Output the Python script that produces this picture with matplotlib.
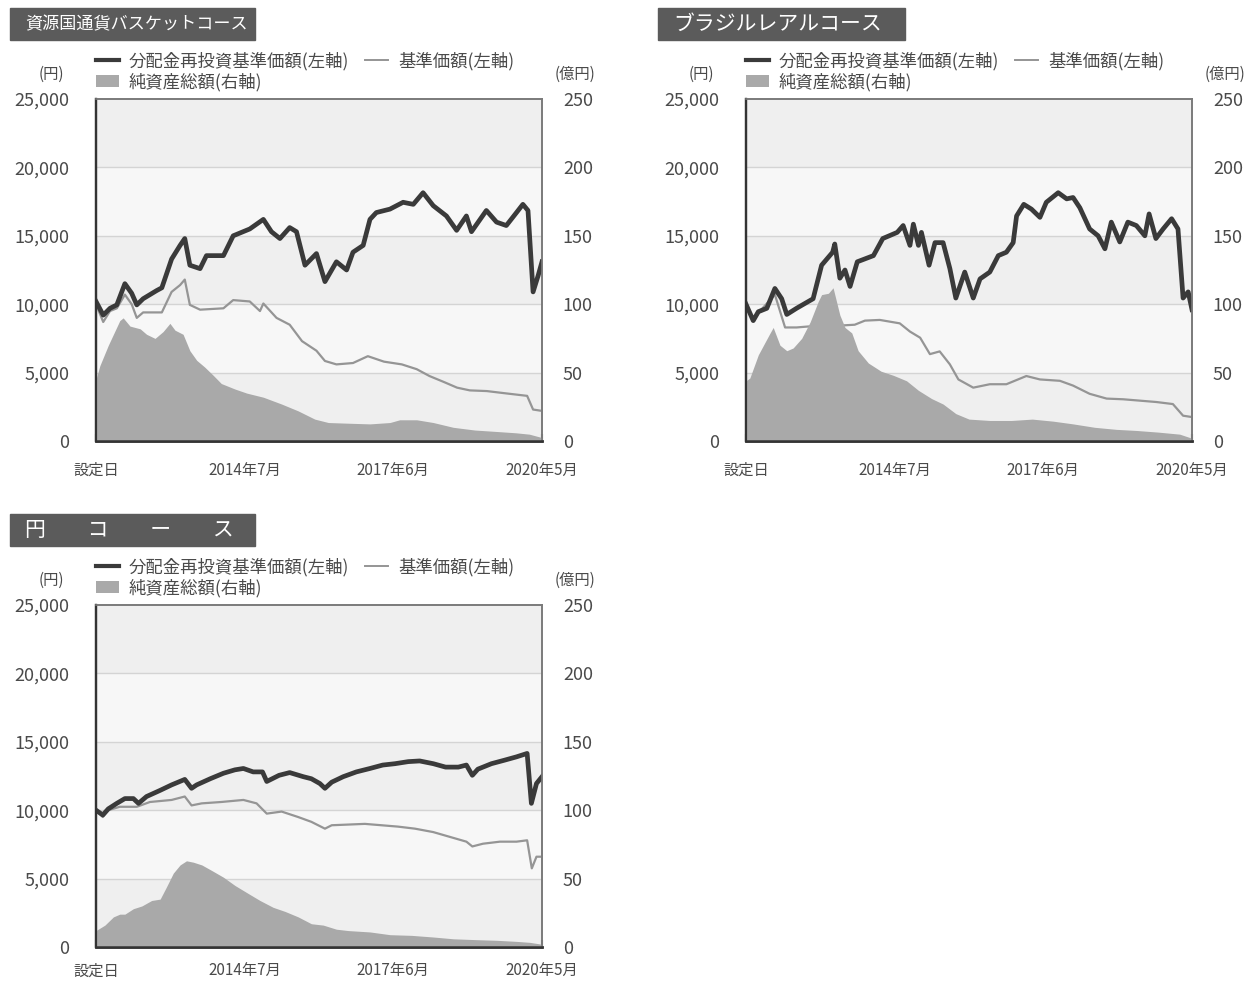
import matplotlib
matplotlib.use("Agg")
import matplotlib.pyplot as plt
from matplotlib.patches import Rectangle, Patch
from matplotlib.lines import Line2D
from matplotlib.ticker import FuncFormatter

plt.rcParams['font.family'] = ['Noto Sans CJK JP', 'DejaVu Sans']

# months since 設定日 (2011年8月)
x_ticks = [0, 35, 70, 105]
x_labels = ["設定日", "2014年7月", "2017年6月", "2020年5月"]
left_ticks = [0, 5000, 10000, 15000, 20000, 25000]
right_ticks = [0, 50, 100, 150, 200, 250]

# 資源国通貨バスケットコース
basket_tr_m = [0, 1.7, 3.3, 4.9, 6.8, 8.4, 9.6, 11.1, 14.3, 15.5, 17.8, 19.8, 20.9, 22.1, 24.5, 26.0,
               30.0, 32.3, 36.2, 39.4, 41.3, 43.3, 45.6, 47.2, 49.2, 51.9, 53.9, 56.6, 59.0, 60.5,
               62.9, 64.5, 66.0, 69.2, 72.3, 74.7, 77.0, 79.4, 82.5, 84.9, 87.2, 88.4, 91.9, 94.3,
               96.6, 99.0, 100.5, 101.7, 102.9, 104.1, 105]
basket_tr = [10200, 9200, 9700, 9950, 11500, 10800, 9950, 10400, 11000, 11200, 13300, 14300, 14800,
             12850, 12600, 13550, 13550, 15000, 15500, 16200, 15300, 14800, 15600, 15300, 12850,
             13700, 11650, 13100, 12500, 13800, 14300, 16200, 16700, 16950, 17450, 17300, 18150,
             17200, 16450, 15400, 16450, 15300, 16850, 16000, 15750, 16700, 17300, 16850, 10900,
             12100, 13100]
basket_nav_m = [0, 1.7, 3.3, 4.9, 6.8, 8.4, 9.6, 11.1, 15.5, 17.8, 19.8, 20.9, 22.1, 24.5, 30.0, 32.3,
                36.2, 38.6, 39.4, 42.5, 45.6, 48.5, 51.9, 53.9, 56.6, 60.5, 64.0, 67.8, 72.0, 75.5,
                78.5, 82.0, 85.0, 88.0, 92.0, 96.0, 101.5, 102.9, 105]
basket_nav = [10000, 8700, 9500, 9700, 10700, 10000, 9000, 9400, 9400, 10900, 11400, 11800, 9950,
              9600, 9700, 10300, 10200, 9500, 10050, 9000, 8500, 7300, 6600, 5850, 5600, 5700, 6200,
              5800, 5600, 5250, 4750, 4300, 3900, 3700, 3650, 3500, 3300, 2300, 2200]
basket_aum_m = [0, 0.9, 2.9, 5.6, 6.4, 8.0, 10.4, 11.9, 13.9, 15.8, 17.4, 18.6, 20.5, 22.1, 23.7,
                25.6, 27.6, 29.5, 32.7, 35.5, 39.4, 43.7, 47.6, 51.5, 54.7, 59.4, 64.5, 69.2, 71.5,
                75.5, 79.4, 84.1, 89.2, 94.1, 98.8, 102.0, 105]
basket_aum = [45, 55, 70, 88, 90, 84, 82, 78, 75, 80, 86, 81, 78, 66, 59, 54, 48, 42, 38, 35, 32, 27,
              22, 16, 13.5, 13, 12.5, 13.5, 15.5, 15.5, 13.5, 10, 8, 7, 6, 5, 2.5]

# ブラジルレアルコース
brl_tr_m = [0, 1.7, 2.9, 4.9, 6.8, 8.4, 9.6, 11.9, 15.8, 17.8, 20.4, 20.9, 22.1, 23.3, 24.5, 26.2,
            30.0, 32.2, 35.6, 37.0, 38.6, 39.4, 40.6, 41.3, 43.1, 44.5, 46.4, 48.0, 49.4, 51.5, 53.5,
            55.1, 57.4, 59.4, 61.3, 62.9, 63.7, 65.4, 67.2, 69.2, 70.7, 73.5, 75.5, 77.0, 78.6, 80.9,
            82.9, 84.5, 86.0, 88.0, 89.9, 91.9, 93.9, 94.9, 96.5, 98.2, 100.2, 101.7, 102.9, 104.1, 105]
brl_tr = [10000, 8800, 9450, 9700, 11150, 10400, 9250, 9700, 10400, 12850, 13800, 14400, 11900, 12500,
          11300, 13100, 13550, 14800, 15250, 15750, 14300, 15850, 14300, 15250, 12850, 14500, 14500,
          12600, 10450, 12350, 10450, 11850, 12350, 13550, 13800, 14500, 16450, 17300, 16950, 16350,
          17450, 18150, 17700, 17800, 17050, 15500, 15000, 14050, 16000, 14550, 16000, 15750, 15000,
          16600, 14800, 15500, 16250, 15500, 10450, 10900, 9600]
brl_nav_m = [0, 1.7, 3.3, 6.8, 9.2, 11.9, 15.8, 20.0, 25.6, 28.0, 31.5, 36.2, 38.6, 41.0, 43.3, 45.6,
             48.0, 50.0, 53.5, 57.4, 61.3, 66.0, 69.2, 73.9, 77.0, 80.9, 84.9, 88.8, 92.7, 96.6,
             100.5, 102.9, 105]
brl_nav = [10000, 8800, 9500, 10700, 8300, 8300, 8400, 8400, 8500, 8800, 8850, 8600, 8000, 7550, 6350,
           6550, 5600, 4500, 3900, 4150, 4150, 4750, 4500, 4400, 4050, 3450, 3100, 3050, 2950, 2850,
           2700, 1850, 1750]
brl_aum_m = [0, 0.9, 2.9, 5.5, 6.4, 8.0, 9.6, 11.1, 13.1, 15.1, 17.0, 17.8, 19.4, 20.5, 22.1, 23.3,
             24.9, 26.4, 28.8, 31.8, 34.7, 37.8, 40.6, 43.7, 46.4, 49.4, 52.5, 57.4, 62.5, 67.4,
             72.3, 77.0, 82.1, 87.2, 91.9, 97.0, 102.1, 105]
brl_aum = [44, 46, 63, 78, 83, 70, 66, 68, 75, 87, 102, 107, 108, 112, 92, 83, 79, 66, 57, 51, 48, 44,
           37, 31, 27, 20, 16, 15, 15, 16, 14.5, 12.5, 10, 8.5, 7.7, 6.5, 5, 2]

# 円コース
jpy_tr_m = [0, 1.6, 2.9, 4.9, 6.8, 8.8, 10.0, 11.9, 15.1, 17.8, 20.9, 22.5, 23.7, 26.9, 30.0, 32.7,
            34.7, 37.0, 39.2, 40.2, 43.1, 45.6, 48.8, 50.7, 52.7, 53.9, 55.5, 58.2, 61.3, 64.5, 67.5,
            70.4, 73.5, 76.2, 79.4, 82.3, 85.3, 87.2, 88.6, 89.9, 93.1, 96.1, 99.0, 101.5, 102.5,
            103.7, 105]
jpy_tr = [10000, 9650, 10100, 10500, 10850, 10850, 10500, 11000, 11450, 11850, 12250, 11600, 11850,
          12300, 12700, 12950, 13050, 12800, 12800, 12100, 12550, 12750, 12450, 12300, 11950, 11600,
          12050, 12450, 12800, 13050, 13300, 13400, 13550, 13600, 13400, 13150, 13150, 13300, 12550,
          13000, 13400, 13650, 13900, 14150, 10500, 11950, 12450]
jpy_nav_m = [0, 1.6, 2.9, 5.6, 9.6, 12.7, 17.8, 20.9, 22.5, 24.9, 29.5, 34.7, 37.8, 40.2, 43.7, 47.6,
             50.7, 53.9, 55.5, 59.4, 63.3, 67.2, 71.1, 75.1, 79.4, 83.3, 87.2, 88.6, 91.1, 95.1, 99.0,
             101.5, 102.6, 103.7, 105]
jpy_nav = [10000, 9500, 10000, 10250, 10250, 10600, 10750, 11000, 10350, 10500, 10600, 10750, 10500,
           9750, 9900, 9500, 9150, 8650, 8900, 8950, 9000, 8900, 8800, 8650, 8400, 8050, 7700, 7350,
           7550, 7700, 7700, 7800, 5750, 6600, 6600]
jpy_aum_m = [0, 2.1, 4.1, 5.6, 6.8, 8.8, 10.8, 13.1, 15.1, 16.6, 18.2, 19.8, 21.3, 22.9, 24.9, 27.2,
             30.0, 32.7, 35.9, 38.6, 41.7, 44.5, 47.6, 50.7, 53.5, 56.6, 59.4, 64.5, 69.2, 74.3, 79.4,
             84.1, 89.2, 94.3, 99.0, 102.1, 105]
jpy_aum = [12, 16, 22, 24, 24, 28, 30, 34, 35, 44, 54, 60, 63, 62, 60, 56, 51, 45, 39, 34, 29, 26, 22,
           17, 16, 13, 12, 11, 9, 8.5, 7.3, 6, 5.4, 4.9, 4.1, 3.4, 2]

W, H = 1251, 983
DARK = '#3a3a3a'
GRAY_LINE = '#959595'
AREA = '#a9a9a9'
TXT = '#4a4a4a'

fig = plt.figure(figsize=(W / 100, H / 100), dpi=100)


def title_box(x, y, w, h, text, fs):
    fig.add_artist(Rectangle((x / W, 1 - (y + h) / H), w / W, h / H,
                             transform=fig.transFigure, color='#5b5b5b', zorder=1))
    fig.text((x + 15) / W, 1 - (y + h / 2) / H, text, color='white', fontsize=fs,
             ha='left', va='center', zorder=2)


def panel(left, top, tr_m, tr, nav_m, nav, aum_m, aum, xpad=15):
    ax = fig.add_axes([left / W, 1 - (top + 342) / H, 446 / W, 342 / H])
    axr = ax.twinx()
    # net assets (right axis) sit on top of the price lines, like the original
    axr.set_zorder(2)
    axr.patch.set_visible(False)
    ax.set_zorder(1)

    # alternating background bands and grid on the left axis
    for i in range(5):
        ax.axhspan(i * 5000, (i + 1) * 5000, color='#efefef' if i % 2 == 0 else '#f7f7f7',
                   lw=0, zorder=0)
    for v in left_ticks[1:-1]:
        ax.axhline(v, color='#d4d4d4', lw=1, zorder=0.5)

    ax.plot(nav_m, nav, color=GRAY_LINE, lw=1.6, zorder=3)
    ax.plot(tr_m, tr, color=DARK, lw=3.4, zorder=4, solid_joinstyle='round')
    axr.fill_between(aum_m, aum, 0, color=AREA, lw=0, zorder=1)

    ax.set_xlim(0, 105)
    ax.set_ylim(0, 25000)
    axr.set_ylim(0, 250)
    ax.set_yticks(left_ticks)
    ax.yaxis.set_major_formatter(FuncFormatter(lambda v, p: f"{int(v):,}"))
    axr.set_yticks(right_ticks)
    ax.set_xticks(x_ticks)
    ax.set_xticklabels(x_labels)
    ax.tick_params(axis='y', length=0, pad=19, labelsize=13, labelcolor=TXT)
    axr.tick_params(axis='y', length=0, pad=15, labelsize=13, labelcolor=TXT)
    ax.tick_params(axis='x', direction='in', length=5, width=1.5, color=DARK,
                   pad=xpad, labelsize=11, labelcolor=TXT)
    axr.tick_params(axis='x', length=0)

    for a in (ax, axr):
        a.spines['left'].set_color('#333333')
        a.spines['bottom'].set_color('#333333')
        a.spines['left'].set_linewidth(1.6)
        a.spines['bottom'].set_linewidth(1.8)
        a.spines['top'].set_color('#7a7a7a')
        a.spines['right'].set_color('#7a7a7a')
        a.spines['top'].set_linewidth(1.2)
        a.spines['right'].set_linewidth(1.2)

    handles = [Line2D([], [], color=DARK, lw=3.0),
               Patch(color=AREA, lw=0),
               Line2D([], [], color=GRAY_LINE, lw=1.4)]
    labels = ["分配金再投資基準価額(左軸)", "純資産総額(右軸)", "基準価額(左軸)"]
    leg = axr.legend(handles, labels, ncol=2, loc='lower left', bbox_to_anchor=(0.0, 1.022),
                     frameon=False, fontsize=12.5, handlelength=1.35, handletextpad=0.55,
                     columnspacing=0.9, labelspacing=0.15, borderpad=0, borderaxespad=0)
    for t in leg.get_texts():
        t.set_color(TXT)

    ax.text(-0.1, 1.072, "(円)", transform=ax.transAxes, fontsize=11, color=TXT,
            ha='center', va='center')
    ax.text(1.075, 1.072, "(億円)", transform=ax.transAxes, fontsize=11, color=TXT,
            ha='center', va='center')
    return ax


title_box(10, 8, 245, 32, "資源国通貨バスケットコース", 12.3)
title_box(658, 8, 247, 32, "ブラジルレアルコース", 15)
title_box(10, 514, 245, 32, "円　　コ　　ー　　ス", 15)

panel(96, 99, basket_tr_m, basket_tr, basket_nav_m, basket_nav, basket_aum_m, basket_aum)
panel(746, 99, brl_tr_m, brl_tr, brl_nav_m, brl_nav, brl_aum_m, brl_aum)
panel(96, 605, jpy_tr_m, jpy_tr, jpy_nav_m, jpy_nav, jpy_aum_m, jpy_aum, xpad=11)

fig.savefig("out.png", dpi=100)
